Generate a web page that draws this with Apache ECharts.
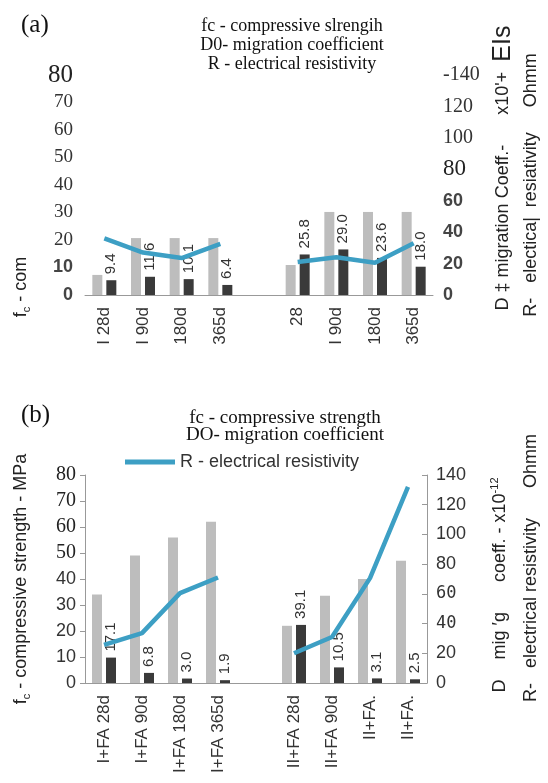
<!DOCTYPE html>
<html>
<head>
<meta charset="utf-8">
<script src="https://cdn.jsdelivr.net/npm/echarts@6/dist/echarts.min.js"></script>
<style>html,body{margin:0;padding:0;background:#fff}#c{width:548px;height:783px}</style>
</head>
<body>
<div id="c"></div>
<script>
// ---------- data ----------
const categoriesA = ['I 28d', 'I 90d', '180d', '365d', '', '28', 'I 90d', '180d', '365d'];
const fcA = [7.3, 20.7, 20.7, 20.7, null, 10.9, 30.2, 30.2, 30.2];
const d0A = [9.4, 11.6, 10.1, 6.4, null, 25.8, 29.0, 23.6, 18.0];
const rA = [36, 27, 23.5, 32.5, null, 21, 24, 20.5, 33];

const categoriesB = ['I+FA 28d', 'I+FA 90d', 'I+FA 180d', 'I+FA 365d', '', 'II+FA 28d', 'II+FA 90d', 'II+FA.', 'II+FA.'];
const fcB = [34, 49, 56, 62, null, 22, 33.6, 40, 47];
const d0B = [17.1, 6.8, 3.0, 1.9, null, 39.1, 10.5, 3.1, 2.5];
const rB = [25.6, 33.6, 60.5, 71, null, 20, 31, 70.6, 132];

const leftTicks = { min: 0, max: 80, interval: 10 };
const rightTicks = { min: 0, max: 140, interval: 20 };

// ---------- style ----------
const SANS = 'Liberation Sans';
const SERIF = 'Liberation Serif';
const MONO = 'DejaVu Sans Mono';
const GRAY = '#bdbdbd', DARK = '#3a3a3a', BLUE = '#3d9fc4';

const chart = echarts.init(document.getElementById('c'), null, { renderer: 'canvas' });

function barLabel() {
  return {
    show: true, position: 'top', rotate: 90, align: 'left', verticalAlign: 'middle',
    distance: 6, fontFamily: SANS, fontSize: 15, color: '#333',
    formatter: p => (p.value == null ? '' : Number(p.value).toFixed(1))
  };
}

const richName = {
  n: { fontFamily: SANS, fontSize: 18, color: '#222', lineHeight: 22 },
  sub: { fontFamily: SANS, fontSize: 11, color: '#222', verticalAlign: 'bottom', lineHeight: 22, padding: [8, 0, 0, 0] },
  sup: { fontFamily: SANS, fontSize: 11, color: '#222', verticalAlign: 'top', lineHeight: 22, padding: [0, 0, 8, 0] },
  b: { fontFamily: SANS, fontSize: 25, color: '#222', lineHeight: 22 }
};

const option = {
  animation: false,
  backgroundColor: '#fff',
  title: [
    { text: '(a)', left: 16, top: 8, textStyle: { fontFamily: SERIF, fontSize: 25, fontWeight: 'normal', color: '#111' } },
    { text: 'fc - compressive slrengih\nD0- migration coefficient\nR - electrical resistivity', left: 287, top: 12, textAlign: 'center',
      textStyle: { fontFamily: SERIF, fontSize: 18, lineHeight: 19, fontWeight: 'normal', color: '#111' } },
    { text: '(b)', left: 16, top: 398, textStyle: { fontFamily: SERIF, fontSize: 25, fontWeight: 'normal', color: '#111' } },
    { text: 'fc - compressive strength\nDO- migration coefficient', left: 280, top: 405, textAlign: 'center',
      textStyle: { fontFamily: SERIF, fontSize: 19, lineHeight: 17, fontWeight: 'normal', color: '#111' } }
  ],
  legend: {
    data: ['R - electrical resistivity'], left: 120, top: 448, icon: 'rect', itemWidth: 50, itemHeight: 5,
    textStyle: { fontFamily: SANS, fontSize: 18, color: '#333' }
  },
  grid: [
    { left: 85, right: 113, top: 75, height: 220 },
    { left: 85, right: 118, top: 475, height: 208 }
  ],
  xAxis: [
    { type: 'category', gridIndex: 0, data: categoriesA,
      axisLine: { lineStyle: { color: '#999' } }, axisTick: { length: 5, lineStyle: { color: '#999' } },
      axisLabel: { interval: 0, rotate: 90, margin: 12, fontFamily: SANS, fontSize: 17, color: '#333' } },
    { type: 'category', gridIndex: 1, data: categoriesB,
      axisLine: { lineStyle: { color: '#999' } }, axisTick: { length: 5, lineStyle: { color: '#999' } },
      axisLabel: { interval: 0, rotate: 90, margin: 12, fontFamily: SANS, fontSize: 17, color: '#333' } }
  ],
  yAxis: [
    // (a) left
    { type: 'value', gridIndex: 0, position: 'left', ...leftTicks,
      axisLine: { show: false }, axisTick: { show: false }, splitLine: { show: false },
      axisLabel: { margin: 12, formatter: v => v === 80 ? '{big|' + v + '}' : (v >= 20 ? '{s|' + v + '}' : '{n|' + v + '}'),
        rich: { big: { fontFamily: SERIF, fontSize: 25, color: '#222' }, s: { fontFamily: SERIF, fontSize: 19, color: '#333' }, n: { fontFamily: SANS, fontSize: 18, fontWeight: 'bold', color: '#444' } } },
      name: '{n|f}{sub|c}{n| - com}', nameLocation: 'middle', nameRotate: 90, nameGap: 53,
      nameTextStyle: { rich: richName, padding: [0, 204, 0, 0] } },
    // (a) right: D0
    { type: 'value', gridIndex: 0, position: 'right', ...rightTicks,
      axisLine: { show: false }, axisTick: { show: false }, splitLine: { show: false },
      axisLabel: { margin: 10, formatter: v => v === 140 ? '{s|-140}' : (v === 80 ? '{big|80}' : (v > 80 ? '{s|' + v + '}' : '{n|' + v + '}')),
        rich: { big: { fontFamily: SERIF, fontSize: 23, color: '#222' }, s: { fontFamily: SERIF, fontSize: 20, color: '#333' }, n: { fontFamily: SANS, fontSize: 18, fontWeight: 'bold', color: '#444' } } },
      name: '{n|D ‡ migration Coeff.-      x10\'+  }{b|EIs}', nameLocation: 'middle', nameRotate: 90, nameGap: 56,
      nameTextStyle: { rich: richName, padding: [0, 0, 0, 34] } },
    // (a) right: R
    { type: 'value', gridIndex: 0, position: 'right', ...rightTicks,
      axisLine: { show: false }, axisTick: { show: false }, axisLabel: { show: false }, splitLine: { show: false },
      name: '{n|R-   electica|  resiativity     Ohmm}', nameLocation: 'middle', nameRotate: 90, nameGap: 87,
      nameTextStyle: { rich: richName } },
    // (b) left
    { type: 'value', gridIndex: 1, position: 'left', ...leftTicks,
      axisLine: { show: true, lineStyle: { color: '#999' } }, axisTick: { show: true, length: 5, lineStyle: { color: '#999' } }, splitLine: { show: false },
      axisLabel: { margin: 9, formatter: v => v >= 50 ? '{s|' + v + '}' : '{n|' + v + '}',
        rich: { s: { fontFamily: SERIF, fontSize: 20, color: '#222' }, n: { fontFamily: SANS, fontSize: 18, color: '#333' } } },
      name: '{n|f}{sub|c}{n| - compressive strength - MPa}', nameLocation: 'middle', nameRotate: 90, nameGap: 53,
      nameTextStyle: { rich: richName } },
    // (b) right: D0
    { type: 'value', gridIndex: 1, position: 'right', ...rightTicks,
      axisLine: { show: true, lineStyle: { color: '#999' } }, axisTick: { show: true, inside: true, length: 5, lineStyle: { color: '#999' } }, splitLine: { show: false },
      axisLabel: { margin: 9, formatter: v => (v === 40 || v === 60) ? '{m|' + v + '}' : '{n|' + v + '}',
        rich: { m: { fontFamily: MONO, fontSize: 17, color: '#333' }, n: { fontFamily: SANS, fontSize: 18, color: '#333' } } },
      name: '{n|D    mig ′g      coeff. - x10}{sup|-12}', nameLocation: 'middle', nameRotate: 90, nameGap: 62,
      nameTextStyle: { rich: richName, padding: [0, 12, 0, 0] } },
    // (b) right: R
    { type: 'value', gridIndex: 1, position: 'right', ...rightTicks,
      axisLine: { show: false }, axisTick: { show: false }, axisLabel: { show: false }, splitLine: { show: false },
      name: '{n|R-   electrical resistivity      Ohmm}', nameLocation: 'middle', nameRotate: 90, nameGap: 93,
      nameTextStyle: { rich: richName, padding: [0, 0, 0, 22] } }
  ],
  series: [
    { name: 'fc (a)', type: 'bar', xAxisIndex: 0, yAxisIndex: 0, data: fcA, barWidth: 10, barGap: '40%', itemStyle: { color: GRAY } },
    { name: 'D0 (a)', type: 'bar', xAxisIndex: 0, yAxisIndex: 1, data: d0A, barWidth: 10, barGap: '40%', itemStyle: { color: DARK }, label: barLabel() },
    { name: 'R (a)', type: 'line', xAxisIndex: 0, yAxisIndex: 2, data: rA, symbol: 'none', connectNulls: false, z: 5,
      lineStyle: { color: BLUE, width: 4.5 }, itemStyle: { color: BLUE } },
    { name: 'fc (b)', type: 'bar', xAxisIndex: 1, yAxisIndex: 3, data: fcB, barWidth: 10, barGap: '40%', itemStyle: { color: GRAY } },
    { name: 'D0 (b)', type: 'bar', xAxisIndex: 1, yAxisIndex: 4, data: d0B, barWidth: 10, barGap: '40%', itemStyle: { color: DARK }, label: barLabel() },
    { name: 'R - electrical resistivity', type: 'line', xAxisIndex: 1, yAxisIndex: 5, data: rB, symbol: 'none', connectNulls: false, z: 5,
      lineStyle: { color: BLUE, width: 4.5 }, itemStyle: { color: BLUE } }
  ]
};
chart.setOption(option);
</script>
</body>
</html>
